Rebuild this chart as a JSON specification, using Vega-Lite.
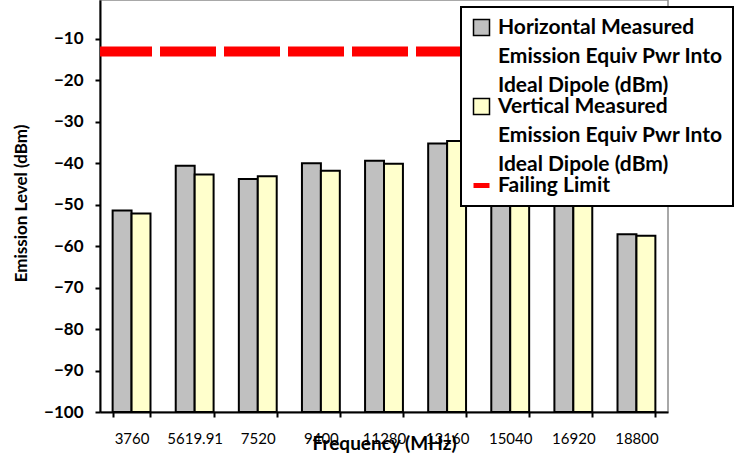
{
  "$schema": "https://vega.github.io/schema/vega-lite/v6.json",
  "width": 568,
  "height": 412,
  "autosize": {"type": "none"},
  "padding": {"left": 100, "top": 0, "right": 77, "bottom": 42},
  "background": "white",
  "config": {
    "font": "Lato",
    "view": {"stroke": "#8c8c8c", "strokeWidth": 1.5},
    "axis": {"domainColor": "black", "domainWidth": 2, "tickColor": "black", "tickWidth": 2, "tickSize": 5, "grid": false, "labelColor": "black", "titleColor": "black"}
  },
  "layer": [
    {
      "data": {"values": [
        {"freq": "3760", "series": "Horizontal Measured Emission Equiv Pwr Into Ideal Dipole (dBm)", "value": -51.4},
        {"freq": "3760", "series": "Vertical Measured Emission Equiv Pwr Into Ideal Dipole (dBm)", "value": -52.1},
        {"freq": "5619.91", "series": "Horizontal Measured Emission Equiv Pwr Into Ideal Dipole (dBm)", "value": -40.6},
        {"freq": "5619.91", "series": "Vertical Measured Emission Equiv Pwr Into Ideal Dipole (dBm)", "value": -42.7},
        {"freq": "7520", "series": "Horizontal Measured Emission Equiv Pwr Into Ideal Dipole (dBm)", "value": -43.8},
        {"freq": "7520", "series": "Vertical Measured Emission Equiv Pwr Into Ideal Dipole (dBm)", "value": -43.1},
        {"freq": "9400", "series": "Horizontal Measured Emission Equiv Pwr Into Ideal Dipole (dBm)", "value": -40.0},
        {"freq": "9400", "series": "Vertical Measured Emission Equiv Pwr Into Ideal Dipole (dBm)", "value": -41.8},
        {"freq": "11280", "series": "Horizontal Measured Emission Equiv Pwr Into Ideal Dipole (dBm)", "value": -39.4},
        {"freq": "11280", "series": "Vertical Measured Emission Equiv Pwr Into Ideal Dipole (dBm)", "value": -40.1},
        {"freq": "13160", "series": "Horizontal Measured Emission Equiv Pwr Into Ideal Dipole (dBm)", "value": -35.2},
        {"freq": "13160", "series": "Vertical Measured Emission Equiv Pwr Into Ideal Dipole (dBm)", "value": -34.6},
        {"freq": "15040", "series": "Horizontal Measured Emission Equiv Pwr Into Ideal Dipole (dBm)", "value": -33.8},
        {"freq": "15040", "series": "Vertical Measured Emission Equiv Pwr Into Ideal Dipole (dBm)", "value": -35.2},
        {"freq": "16920", "series": "Horizontal Measured Emission Equiv Pwr Into Ideal Dipole (dBm)", "value": -28.2},
        {"freq": "16920", "series": "Vertical Measured Emission Equiv Pwr Into Ideal Dipole (dBm)", "value": -28.7},
        {"freq": "18800", "series": "Horizontal Measured Emission Equiv Pwr Into Ideal Dipole (dBm)", "value": -57.1},
        {"freq": "18800", "series": "Vertical Measured Emission Equiv Pwr Into Ideal Dipole (dBm)", "value": -57.5}
      ]},
      "mark": {"type": "bar", "stroke": "black", "strokeWidth": 2},
      "encoding": {
        "x": {
          "field": "freq", "type": "nominal", "sort": null,
          "scale": {"paddingInner": 0.4, "paddingOuter": 0.2},
          "axis": {"title": "Frequency (MHz)", "labelAngle": 0, "labelFontSize": 15, "labelFont": "Lato", "labelPadding": 14, "tickBand": "extent",
                   "titleFontSize": 19, "titleFontWeight": "bold", "titleY": 31, "titleBaseline": "middle"}
        },
        "xOffset": {"field": "series", "type": "nominal", "sort": null},
        "y": {
          "field": "value", "type": "quantitative",
          "scale": {"domain": [-100, -0.6], "nice": false, "zero": false},
          "axis": {"title": "Emission Level (dBm)", "values": [-100, -90, -80, -70, -60, -50, -40, -30, -20, -10],
                   "labelFontSize": 17, "labelFontWeight": "bold", "labelPadding": 12,
                   "titleFontSize": 17, "titleFontWeight": "bold", "titleX": -79, "titleY": 203, "titleBaseline": "middle"}
        },
        "y2": {"datum": -100},
        "color": {
          "field": "series", "type": "nominal",
          "scale": {
            "domain": ["Horizontal Measured Emission Equiv Pwr Into Ideal Dipole (dBm)", "Vertical Measured Emission Equiv Pwr Into Ideal Dipole (dBm)", "Failing Limit"],
            "range": ["#C0C0C0", "#FFFFCC", "#FF0000"]
          },
          "legend": {
            "title": null, "orient": "none", "legendX": 361, "legendY": 7,
            "labelFontSize": 21, "labelFontWeight": "bold", "labelColor": "black", "labelLimit": 500, "labelOffset": 6,
            "symbolSize": 256, "padding": 10, "rowPadding": -9,
            "symbolStrokeColor": "black", "symbolStrokeWidth": 1.5,
            "fillColor": "white", "strokeColor": "black",
            "labelExpr": "indexof(datum.label, 'Horizontal') == 0 ? ['Horizontal Measured', 'Emission Equiv Pwr Into', 'Ideal Dipole (dBm)'] : indexof(datum.label, 'Vertical') == 0 ? ['Vertical Measured', 'Emission Equiv Pwr Into', 'Ideal Dipole (dBm)'] : datum.label",
            "encoding": {
              "legend": {"strokeWidth": {"value": 2}},
              "labels": {"lineHeight": {"value": 29}},
              "symbols": {
                "shape": {"value": {"expr": "datum.value === 'Failing Limit' ? 'M-1,0H1' : 'square'"}},
                "stroke": {"value": {"expr": "datum.value === 'Failing Limit' ? '#FF0000' : '#000000'"}},
                "strokeWidth": {"value": {"expr": "datum.value === 'Failing Limit' ? 5 : 1.5"}},
                "opacity": {"value": 1}
              }
            }
          }
        }
      }
    },
    {
      "data": {"values": [{"series": "Failing Limit", "value": -13}]},
      "mark": {"type": "rule", "color": "#FF0000", "strokeWidth": 10, "strokeDash": [56, 8], "strokeDashOffset": 60, "strokeCap": "butt"},
      "encoding": {
        "y": {"field": "value", "type": "quantitative"}
      }
    }
  ]
}
